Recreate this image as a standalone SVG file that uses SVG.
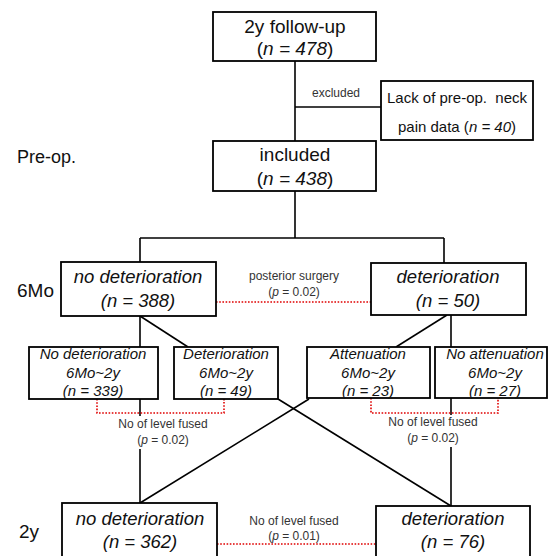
<svg xmlns="http://www.w3.org/2000/svg" width="548" height="556" viewBox="0 0 548 556">
<style>
.box{fill:#fff;stroke:#000;stroke-width:1.8}
.ln{stroke:#000;stroke-width:1.6;fill:none}
.red{stroke:#e00000;stroke-width:1.6;fill:none;stroke-dasharray:1.6 1.6}
.bg{fill:#fff;stroke:none}
text{font-family:"Liberation Sans",Arial,sans-serif;fill:#111;text-anchor:middle}
.t19{font-size:19px}
.t15{font-size:15px}
.i18{font-size:18.5px;font-style:italic}
.i15{font-size:15px;font-style:italic}
.sm{font-size:12px;fill:#333}
.lbl{text-anchor:start}
</style>
<rect width="548" height="556" fill="#fff"/>
<g id="connectors">
<line class="ln" x1="295" y1="61" x2="295" y2="141"/>
<line class="ln" x1="295" y1="107" x2="381" y2="107"/>
<line class="ln" x1="295" y1="191" x2="295" y2="238"/>
<line class="ln" x1="140" y1="238" x2="444" y2="238"/>
<line class="ln" x1="140" y1="238" x2="140" y2="262"/>
<line class="ln" x1="444" y1="238" x2="444" y2="263"/>
<line class="ln" x1="140" y1="316" x2="140" y2="347"/>
<line class="ln" x1="140" y1="316" x2="188" y2="347"/>
<line class="ln" x1="447" y1="315" x2="396" y2="347"/>
<line class="ln" x1="451" y1="315" x2="451" y2="347"/>
<line class="ln" x1="140" y1="399" x2="140" y2="503"/>
<line class="ln" x1="309" y1="399" x2="140" y2="503"/>
<line class="ln" x1="278" y1="399" x2="451" y2="506"/>
<line class="ln" x1="451" y1="398" x2="451" y2="506"/>
<line class="red" x1="216" y1="302" x2="371" y2="302"/>
<polyline class="red" points="97,399 97,413 224,413 224,399"/>
<polyline class="red" points="371,398 371,413 498,413 498,398"/>
<line class="red" x1="217" y1="544" x2="376" y2="544"/>
<rect class="bg" x="116" y="416" width="94" height="33"/>
<rect class="bg" x="386" y="415" width="94" height="32"/>
<text class="sm" x="336" y="97">excluded</text>
<text class="sm" x="294" y="280">posterior surgery</text>
<text class="sm" x="294" y="296">(<tspan font-style="italic">p</tspan> = 0.02)</text>
<text class="sm" x="163" y="428">No of level fused</text>
<text class="sm" x="163" y="444">(<tspan font-style="italic">p</tspan> = 0.02)</text>
<text class="sm" x="433" y="426">No of level fused</text>
<text class="sm" x="433" y="442">(<tspan font-style="italic">p</tspan> = 0.02)</text>
<text class="sm" x="294" y="525">No of level fused</text>
<text class="sm" x="294" y="540">(<tspan font-style="italic">p</tspan> = 0.01)</text>
</g>
<g id="labels">
<text class="lbl" x="17" y="163" font-size="18px">Pre-op.</text>
<text class="lbl" x="17" y="297" font-size="19px">6Mo</text>
<text class="lbl" x="19" y="538" font-size="19px">2y</text>
</g>
<g id="followup">
<rect class="box" x="213" y="12" width="163" height="49"/>
<text class="t19" x="295" y="33">2y follow-up</text>
<text class="t19" x="295" y="55">(<tspan font-style="italic">n = 478</tspan>)</text>
</g>
<g id="excluded">
<rect class="box" x="381" y="81" width="152" height="59"/>
<text class="t15" x="457" y="103" xml:space="preserve">Lack of pre-op.  neck</text>
<text class="t15" x="457" y="132">pain data (<tspan font-style="italic">n = 40</tspan>)</text>
</g>
<g id="included">
<rect class="box" x="213" y="141" width="163" height="50"/>
<text class="t19" x="295" y="161">included</text>
<text class="t19" x="295" y="185">(<tspan font-style="italic">n = 438</tspan>)</text>
</g>
<g id="m6-nodet">
<rect class="box" x="61" y="262" width="155" height="54"/>
<text class="i18" x="138" y="283">no deterioration</text>
<text class="i18" x="138" y="307">(n = 388)</text>
</g>
<g id="m6-det">
<rect class="box" x="371" y="263" width="155" height="52"/>
<text class="i18" x="448" y="283">deterioration</text>
<text class="i18" x="448" y="307">(n = 50)</text>
</g>
<g id="nodet-nodet">
<rect class="box" x="29" y="347" width="129" height="52"/>
<text class="i15" x="93" y="359">No deterioration</text>
<text class="i15" x="93" y="378">6Mo~2y</text>
<text class="i15" x="93" y="396">(n = 339)</text>
</g>
<g id="nodet-det">
<rect class="box" x="174" y="347" width="104" height="52"/>
<text class="i15" x="226" y="359">Deterioration</text>
<text class="i15" x="226" y="378">6Mo~2y</text>
<text class="i15" x="226" y="396">(n = 49)</text>
</g>
<g id="det-att">
<rect class="box" x="307" y="347" width="123" height="51"/>
<text class="i15" x="368" y="359">Attenuation</text>
<text class="i15" x="368" y="378">6Mo~2y</text>
<text class="i15" x="368" y="396">(n = 23)</text>
</g>
<g id="det-noatt">
<rect class="box" x="435" y="347" width="112" height="51"/>
<text class="i15" x="495" y="359">No attenuation</text>
<text class="i15" x="495" y="378">6Mo~2y</text>
<text class="i15" x="495" y="396">(n = 27)</text>
</g>
<g id="y2-nodet">
<rect class="box" x="62" y="503" width="155" height="60"/>
<text class="i18" x="140" y="525">no deterioration</text>
<text class="i18" x="140" y="548">(n = 362)</text>
</g>
<g id="y2-det">
<rect class="box" x="376" y="506" width="154" height="60"/>
<text class="i18" x="453" y="525">deterioration</text>
<text class="i18" x="453" y="548">(n = 76)</text>
</g>
</svg>
